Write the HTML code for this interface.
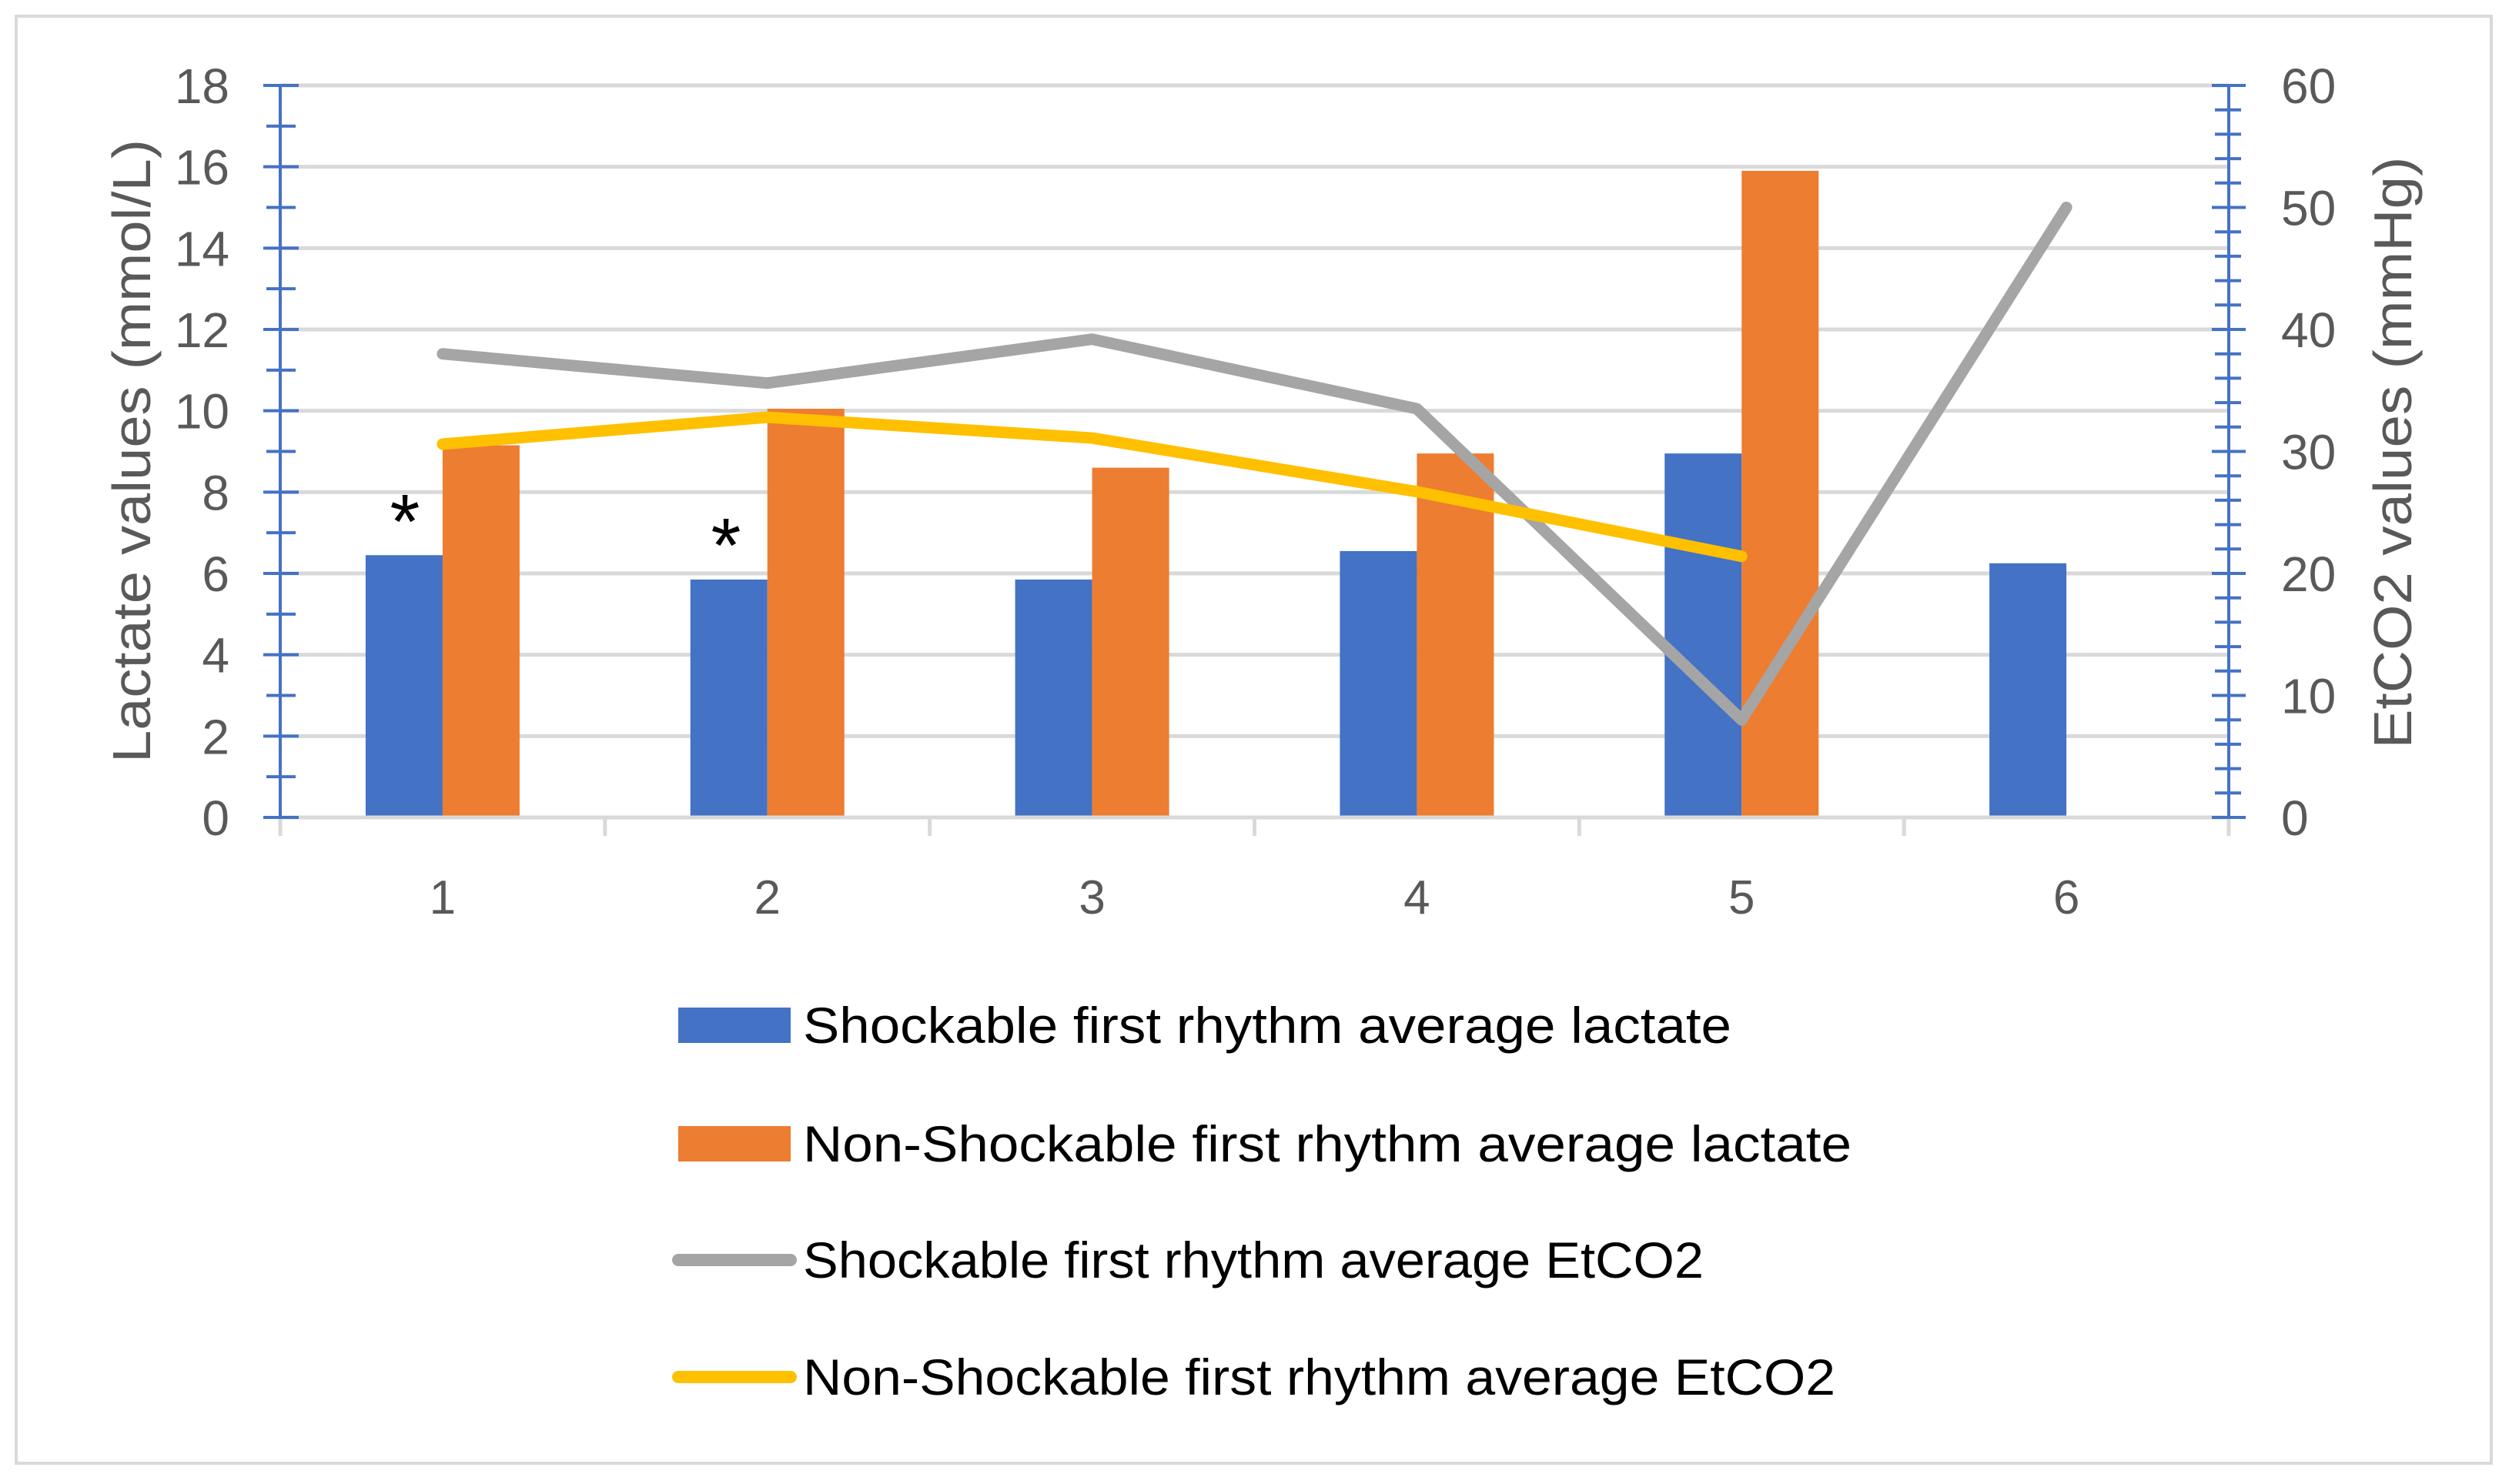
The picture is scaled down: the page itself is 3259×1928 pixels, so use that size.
<!DOCTYPE html>
<html><head><meta charset="utf-8"><style>
html,body{margin:0;padding:0;background:#fff;}
svg{display:block;font-family:"Liberation Sans",sans-serif;}
</style></head><body>
<svg id="chart" width="3259" height="1928" viewBox="0 0 3259 1928" xmlns="http://www.w3.org/2000/svg">
<rect x="21" y="21" width="3215" height="1880" fill="#fff" stroke="#d9d9d9" stroke-width="4"/>
<g id="grid"></g>
<g id="bars"></g>
<g id="axes"></g>
<g id="lines"></g>
<text x="526" y="712" font-size="100" text-anchor="middle" fill="#000">*</text>
<text x="943" y="743" font-size="100" text-anchor="middle" fill="#000">*</text>
<text transform="translate(195,586) rotate(-90)" font-size="70" text-anchor="middle" fill="#595959" textLength="810" lengthAdjust="spacingAndGlyphs">Lactate values (mmol/L)</text>
<text transform="translate(3132,588) rotate(-90)" font-size="70" text-anchor="middle" fill="#595959" textLength="769" lengthAdjust="spacingAndGlyphs">EtCO2 values (mmHg)</text>
<g>
 <g><rect x="881" y="1309" width="146" height="46" fill="#4472C4"/><text x="1043" y="1355" font-size="66" fill="#000" textLength="1206" lengthAdjust="spacingAndGlyphs">Shockable first rhythm average  lactate</text></g>
 <g><rect x="881" y="1463" width="146" height="46" fill="#ED7D31"/><text x="1043" y="1509" font-size="66" fill="#000" textLength="1362" lengthAdjust="spacingAndGlyphs">Non-Shockable first rhythm average  lactate</text></g>
 <g><line x1="881" y1="1637" x2="1027" y2="1637" stroke="#A5A5A5" stroke-width="16" stroke-linecap="round"/><text x="1043" y="1660" font-size="66" fill="#000" textLength="1170" lengthAdjust="spacingAndGlyphs">Shockable first rhythm average EtCO2</text></g>
 <g><line x1="881" y1="1789" x2="1027" y2="1789" stroke="#FFC000" stroke-width="16" stroke-linecap="round"/><text x="1043" y="1812" font-size="66" fill="#000" textLength="1341" lengthAdjust="spacingAndGlyphs">Non-Shockable first rhythm average  EtCO2</text></g>
</g>
</svg>
<script>
const categories = ["1","2","3","4","5","6"];
const shockLactate = [6.45, 5.85, 5.85, 6.55, 8.95, 6.25];
const nonShockLactate = [9.15, 10.05, 8.6, 8.95, 15.9];
const shockEtco2 = [38.0, 35.6, 39.2, 33.5, 8.0, 50.0];
const nonShockEtco2 = [30.6, 32.8, 31.1, 26.7, 21.4];
const leftTicks = [0,2,4,6,8,10,12,14,16,18];
const rightTicks = [0,10,20,30,40,50,60];

const NS = "http://www.w3.org/2000/svg";
const X0 = 364, X1 = 2895, Y0 = 1062, YT = 111;
const catW = (X1 - X0) / categories.length;
const yL = v => Y0 - (v / 18) * (Y0 - YT);
const yR = v => Y0 - (v / 60) * (Y0 - YT);
const xC = i => X0 + catW * (i + 0.5);
function mk(tag, attrs, parent) {
  const e = document.createElementNS(NS, tag);
  for (const k in attrs) e.setAttribute(k, attrs[k]);
  parent.appendChild(e);
  return e;
}
const grid = document.getElementById('grid');
const bars = document.getElementById('bars');
const axes = document.getElementById('axes');
const lines = document.getElementById('lines');

leftTicks.forEach(t => {
  if (t === 0) return;
  const g = mk('line', {x1: X0, x2: X1, y1: yL(t), y2: yL(t), stroke: '#d9d9d9', 'stroke-width': 5}, grid);
  
  
});

const bw = 100;
shockLactate.forEach((v, i) => {
  const r = mk('rect', {x: xC(i) - bw, y: yL(v), width: bw, height: Y0 - yL(v), fill: '#4472C4'}, bars);
  
  
});
nonShockLactate.forEach((v, i) => {
  const r = mk('rect', {x: xC(i), y: yL(v), width: bw, height: Y0 - yL(v), fill: '#ED7D31'}, bars);
  
  
});

const xa = mk('line', {x1: X0, x2: X1, y1: Y0, y2: Y0, stroke: '#d9d9d9', 'stroke-width': 5}, axes);


for (let i = 0; i <= categories.length; i++) {
  const x = X0 + catW * i;
  mk('line', {x1: x, x2: x, y1: Y0, y2: Y0 + 24, stroke: '#d9d9d9', 'stroke-width': 5}, axes);
}
categories.forEach((c, i) => {
  const t = mk('text', {x: xC(i), y: Y0 + 125, 'font-size': 62, 'text-anchor': 'middle', fill: '#595959'}, axes);
  t.textContent = c;
  
  
});

const la = mk('line', {x1: X0, x2: X0, y1: YT, y2: Y0, stroke: '#4472C4', 'stroke-width': 4}, axes);


for (let v = 0; v <= 18; v++) {
  const major = v % 2 === 0;
  mk('line', {x1: major ? X0 - 22 : X0 - 18, x2: major ? X0 + 24 : X0 + 20, y1: yL(v), y2: yL(v), stroke: '#4472C4', 'stroke-width': 4}, axes);
}
leftTicks.forEach(t => {
  const e = mk('text', {x: 298, y: yL(t) + 23, 'font-size': 64, 'text-anchor': 'end', fill: '#595959'}, axes);
  e.textContent = t;
  
  
});

const ra = mk('line', {x1: X1, x2: X1, y1: YT, y2: Y0, stroke: '#4472C4', 'stroke-width': 4}, axes);


for (let v = 0; v <= 60; v += 2) {
  const major = v % 10 === 0;
  mk('line', {x1: major ? X1 - 22 : X1 - 18, x2: major ? X1 + 22 : X1 + 16, y1: yR(v), y2: yR(v), stroke: '#4472C4', 'stroke-width': 4}, axes);
}
rightTicks.forEach(t => {
  const e = mk('text', {x: 2963, y: yR(t) + 23, 'font-size': 64, 'text-anchor': 'start', fill: '#595959'}, axes);
  e.textContent = t;
  
  
});

const p1 = mk('polyline', {points: shockEtco2.map((v, i) => xC(i) + ',' + yR(v)).join(' '), fill: 'none', stroke: '#A5A5A5', 'stroke-width': 15, 'stroke-linecap': 'round', 'stroke-linejoin': 'round'}, lines);


const p2 = mk('polyline', {points: nonShockEtco2.map((v, i) => xC(i) + ',' + yR(v)).join(' '), fill: 'none', stroke: '#FFC000', 'stroke-width': 15, 'stroke-linecap': 'round', 'stroke-linejoin': 'round'}, lines);


</script>
</body></html>
